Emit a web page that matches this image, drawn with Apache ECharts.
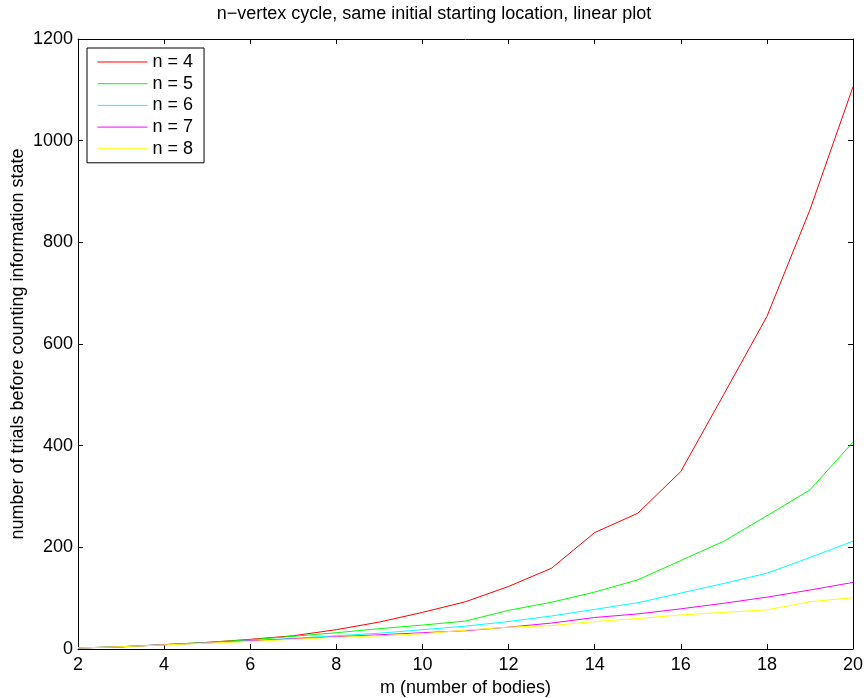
<!DOCTYPE html>
<html>
<head>
<meta charset="utf-8">
<title>n-vertex cycle</title>
<script src="https://cdn.jsdelivr.net/npm/echarts@6/dist/echarts.min.js"></script>
<style>
    html, body { margin: 0; padding: 0; background: #fff; }
    #main { width: 868px; height: 698px; }
</style>
</head>
<body>
<div id="main"></div>
<script>
// m values
var mValues = [2, 3, 4, 5, 6, 7, 8, 9, 10, 11, 12, 13, 14, 15, 16, 17, 18, 19, 20];

// trials per n
var n4 = [2, 4, 8.5, 13, 19, 26, 38, 53, 72, 93, 123, 159, 229, 267, 349, 501, 654, 864, 1106];
var n5 = [2, 4.5, 8.5, 13, 18, 25, 32, 40, 47, 55, 76, 92, 112, 136, 174, 212, 262, 313, 407];
var n6 = [2, 4.5, 8.5, 12, 16, 21, 26, 31, 38, 45, 54, 65, 78, 91, 110, 129, 149, 180, 212];
var n7 = [2, 4.5, 8.5, 12, 16, 20, 24, 28, 32, 36, 43, 51, 62, 69, 79, 90, 102, 116, 131];
var n8 = [2, 4.5, 8, 11.5, 15, 19, 23, 26, 30, 37, 43, 46, 54, 60, 67, 72, 77, 93, 101];

var seriesNames = ['n = 4', 'n = 5', 'n = 6', 'n = 7', 'n = 8'];
var seriesData = [n4, n5, n6, n7, n8];
var colors = ['#ff0000', '#00ff00', '#00ffff', '#ff00ff', '#ffff00'];

var font = '"Liberation Sans", Arial, Helvetica, sans-serif';
var fs = 18;

function pairs(ys) {
    var out = [];
    for (var i = 0; i < mValues.length; i++) out.push([mValues[i], ys[i]]);
    return out;
}

var series = [];
for (var i = 0; i < seriesNames.length; i++) {
    series.push({
        name: seriesNames[i],
        type: 'line',
        data: pairs(seriesData[i]),
        symbol: 'none',
        silent: true,
        animation: false,
        lineStyle: { color: colors[i], width: 1 },
        itemStyle: { color: colors[i] }
    });
}

var tickStyle = { inside: true, length: 5, lineStyle: { color: '#000', width: 1 } };
var axisLine = { show: true, onZero: false, lineStyle: { color: '#000', width: 1 } };

var chart = echarts.init(document.getElementById('main'), null, { renderer: 'canvas' });
chart.setOption({
    backgroundColor: '#fff',
    animation: false,
    textStyle: { fontFamily: font },
    title: {
        text: 'n\u2212vertex cycle, same initial starting location, linear plot',
        left: 'center',
        top: 5,
        padding: 0,
        textStyle: { fontFamily: font, fontSize: fs, fontWeight: 'normal', color: '#000' }
    },
    legend: {
        orient: 'vertical',
        left: 87,
        top: 48,
        padding: [5, 11, 5, 10],
        itemWidth: 50,
        itemHeight: 18,
        itemGap: 3.7,
        itemTextGap: 6,
        borderColor: '#000',
        borderWidth: 1,
        borderRadius: 0,
        backgroundColor: '#fff',
        itemStyle: { opacity: 0 },
        lineStyle: { width: 1 },
        data: seriesNames,
        textStyle: { fontFamily: font, fontSize: fs, lineHeight: 18, color: '#000' }
    },
    grid: { left: 78, top: 39, width: 775, height: 610, outerBoundsMode: 'none', containLabel: false },
    xAxis: [{
        type: 'value',
        min: 2,
        max: 20,
        interval: 2,
        name: 'm (number of bodies)',
        nameLocation: 'middle',
        nameGap: 30,
        nameMoveOverlap: false,
        nameTextStyle: { fontFamily: font, fontSize: fs, color: '#000' },
        axisLine: axisLine,
        axisTick: tickStyle,
        splitLine: { show: false },
        axisLabel: { fontFamily: font, fontSize: fs, color: '#000', margin: 7 }
    }, {
        type: 'value',
        position: 'top',
        min: 2,
        max: 20,
        interval: 2,
        axisLine: axisLine,
        axisTick: tickStyle,
        splitLine: { show: false },
        axisLabel: { show: false }
    }],
    yAxis: [{
        type: 'value',
        min: 0,
        max: 1200,
        interval: 200,
        name: 'number of trials before counting information state',
        nameLocation: 'middle',
        nameGap: 51,
        nameMoveOverlap: false,
        nameTextStyle: { fontFamily: font, fontSize: fs, color: '#000' },
        axisLine: axisLine,
        axisTick: tickStyle,
        splitLine: { show: false },
        axisLabel: {
            fontFamily: font, fontSize: fs, color: '#000', margin: 5,
            formatter: function (v) { return String(v); }
        }
    }, {
        type: 'value',
        position: 'right',
        min: 0,
        max: 1200,
        interval: 200,
        axisLine: axisLine,
        axisTick: tickStyle,
        splitLine: { show: false },
        axisLabel: { show: false }
    }],
    series: series
});
</script>
</body>
</html>
